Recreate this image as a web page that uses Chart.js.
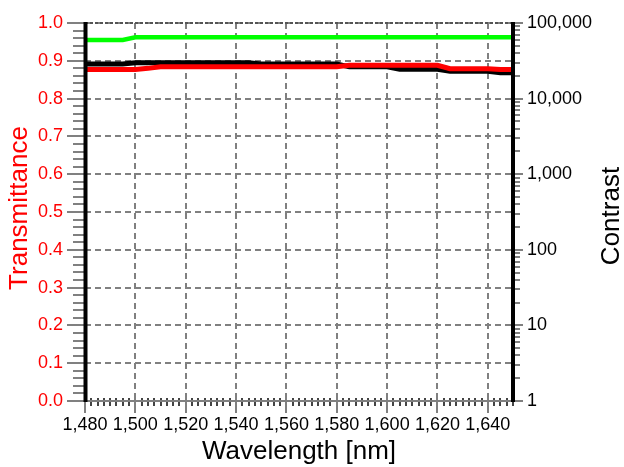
<!DOCTYPE html>
<html><head><meta charset="utf-8">
<script src="https://cdn.jsdelivr.net/npm/chart.js@4.4.1/dist/chart.umd.min.js"></script>
<style>html,body{margin:0;padding:0;background:#fff}#wrap{width:624px;height:467px}</style>
</head><body><div id="wrap"><canvas id="c" width="624" height="467"></canvas></div>
<script>
// ---- data ----
const wavelengths = [1480,1485,1490,1495,1500,1505,1510,1515,1520,1525,1530,1535,1540,1545,1550,1555,1560,1565,1570,1575,1580,1585,1590,1595,1600,1605,1610,1615,1620,1625,1630,1635,1640,1645,1650];
const transmittanceRed = [0.877,0.877,0.877,0.877,0.877,0.880,0.884,0.884,0.884,0.884,0.884,0.884,0.884,0.884,0.884,0.884,0.884,0.884,0.884,0.884,0.884,0.888,0.888,0.888,0.888,0.888,0.888,0.888,0.888,0.879,0.879,0.879,0.879,0.877,0.877];
const transmittanceGreen = [0.955,0.955,0.955,0.955,0.962,0.962,0.962,0.962,0.962,0.962,0.962,0.962,0.962,0.962,0.962,0.962,0.962,0.962,0.962,0.962,0.962,0.962,0.962,0.962,0.962,0.962,0.962,0.962,0.962,0.962,0.962,0.962,0.962,0.962,0.962];
const contrastBlack = [28700,28700,28700,28700,29850,29850,29850,29850,29850,29850,29850,29850,29850,29850,28700,28700,28700,28700,28700,28700,28700,26300,26300,26300,26300,24500,24500,24500,24500,23000,23000,23000,23000,21900,21900];
const xTickValues = [1480,1500,1520,1540,1560,1580,1600,1620,1640];
const leftTickValues = [0,0.1,0.2,0.3,0.4,0.5,0.6,0.7,0.8,0.9,1.0];
const rightTickValues = [1,10,100,1000,10000,100000];
const xTitle = 'Wavelength [nm]';
const leftTitle = 'Transmittance';
const rightTitle = 'Contrast';

const FONT = 'Liberation Sans, Arial, sans-serif';
const GRID = '#808080';

function pts(ys){ return wavelengths.map((x,i)=>({x:x,y:ys[i]})); }
function zeroPad(s){ s.paddingTop = 0; s.paddingBottom = 0; s.paddingLeft = 0; s.paddingRight = 0; }

const decor = {
  id:'decor',
  afterDatasetsDraw(chart){
    const ctx = chart.ctx, a = chart.chartArea;
    const sx = chart.scales.x, sy = chart.scales.y, sr = chart.scales.y2;
    ctx.save();
    ctx.setLineDash([]);
    ctx.strokeStyle = GRID;
    ctx.lineWidth = 2;
    // left ticks
    for (let i=0;i<leftTickValues.length;i++){
      const v = leftTickValues[i];
      const y = Math.round(sy.getPixelForValue(v));
      ctx.beginPath(); ctx.moveTo(a.left-18,y); ctx.lineTo(a.left,y); ctx.stroke();
      if (i<leftTickValues.length-1){
        const n = leftTickValues[i+1];
        for (let k=1;k<5;k++){
          const yy = Math.round(sy.getPixelForValue(v+(n-v)*k/5));
          ctx.beginPath(); ctx.moveTo(a.left-12,yy); ctx.lineTo(a.left,yy); ctx.stroke();
        }
      }
    }
    // right ticks
    for (let i=0;i<rightTickValues.length;i++){
      const d = rightTickValues[i];
      const y = Math.round(sr.getPixelForValue(d));
      ctx.beginPath(); ctx.moveTo(a.right,y); ctx.lineTo(a.right+10,y); ctx.stroke();
      if (i<rightTickValues.length-1){
        for (let k=2;k<10;k++){
          const yy = Math.round(sr.getPixelForValue(d*k));
          ctx.beginPath(); ctx.moveTo(a.right,yy); ctx.lineTo(a.right+7,yy); ctx.stroke();
        }
      }
    }
    // bottom ticks
    const xmin = sx.min, xmax = sx.max;
    for (let v=xmin; v<=xmax+0.001; v+=2.5){
      const x = Math.round(sx.getPixelForValue(v));
      const major = xTickValues.indexOf(v) >= 0;
      ctx.strokeStyle = major ? GRID : '#444';
      ctx.beginPath();
      if (major){ ctx.moveTo(x,a.bottom-3); ctx.lineTo(x,a.bottom+12); }
      else { ctx.moveTo(x,a.bottom-3); ctx.lineTo(x,a.bottom+5); }
      ctx.stroke();
    }
    // bottom axis line
    ctx.strokeStyle = GRID; ctx.lineWidth = 2;
    ctx.beginPath(); ctx.moveTo(a.left,a.bottom); ctx.lineTo(a.right,a.bottom); ctx.stroke();
    // top dotted border
    ctx.strokeStyle = '#555'; ctx.lineWidth = 2; ctx.setLineDash([3,2]);
    ctx.beginPath(); ctx.moveTo(a.left,a.top); ctx.lineTo(a.right,a.top); ctx.stroke();
    ctx.setLineDash([]);
    // left & right black borders
    ctx.strokeStyle = '#000'; ctx.lineWidth = 4;
    ctx.beginPath(); ctx.moveTo(a.left+0.5,a.top-1); ctx.lineTo(a.left+0.5,a.bottom+1); ctx.stroke();
    ctx.beginPath(); ctx.moveTo(a.right,a.top-1); ctx.lineTo(a.right,a.bottom+1); ctx.stroke();
    // titles
    ctx.font = '26px ' + FONT;
    ctx.textAlign = 'center'; ctx.textBaseline = 'middle';
    ctx.fillStyle = '#000';
    ctx.fillText(xTitle, (a.left+a.right)/2, 452);
    ctx.save(); ctx.translate(20,(a.top+a.bottom)/2-4); ctx.rotate(-Math.PI/2);
    ctx.fillStyle = '#ff0000'; ctx.fillText(leftTitle,0,0); ctx.restore();
    ctx.save(); ctx.translate(612,(a.top+a.bottom)/2+4); ctx.rotate(-Math.PI/2);
    ctx.fillStyle = '#000'; ctx.fillText(rightTitle,0,0); ctx.restore();
    ctx.restore();
  }
};

new Chart(document.getElementById('c'), {
  type:'line',
  data:{
    datasets:[
      {label:'T red', data:pts(transmittanceRed), yAxisID:'y', borderColor:'#ff0000', borderWidth:5, pointRadius:0, order:0},
      {label:'Contrast', data:pts(contrastBlack), yAxisID:'y2', borderColor:'#000000', borderWidth:5, pointRadius:0, order:1},
      {label:'T green', data:pts(transmittanceGreen), yAxisID:'y', borderColor:'#00ff00', borderWidth:4.5, pointRadius:0, order:2}
    ]
  },
  options:{
    responsive:false, animation:false, devicePixelRatio:1,
    layout:{padding:{top:23,left:0,right:0,bottom:0}},
    plugins:{legend:{display:false}, tooltip:{enabled:false}},
    scales:{
      x:{type:'linear', min:1480, max:1650,
        afterBuildTicks:s=>{ s.ticks = xTickValues.map(v=>({value:v})); },
        afterFit:s=>{ s.height = 66; zeroPad(s); },
        ticks:{color:'#000', font:{family:FONT,size:18}, padding:13, maxRotation:0, autoSkip:false,
          callback:v=>Number(v).toLocaleString('en-US')},
        grid:{color:GRID, lineWidth:2, drawTicks:false},
        border:{display:false, dash:[6,4]}
      },
      y:{type:'linear', position:'left', min:0, max:1,
        afterBuildTicks:s=>{ s.ticks = leftTickValues.map(v=>({value:v})); },
        afterFit:s=>{ s.width = 85; zeroPad(s); },
        ticks:{color:'#ff0000', font:{family:FONT,size:18}, padding:22, callback:v=>Number(v).toFixed(1)},
        grid:{color:GRID, lineWidth:2, drawTicks:false},
        border:{display:false, dash:[6,4]}
      },
      y2:{type:'logarithmic', position:'right', min:1, max:100000,
        afterBuildTicks:s=>{ s.ticks = rightTickValues.map(v=>({value:v})); },
        afterFit:s=>{ s.width = 111; zeroPad(s); },
        ticks:{color:'#000', font:{family:FONT,size:18}, padding:14, callback:v=>Number(v).toLocaleString('en-US')},
        grid:{display:false, drawTicks:false},
        border:{display:false}
      }
    }
  },
  plugins:[decor]
});
</script>
</body></html>
